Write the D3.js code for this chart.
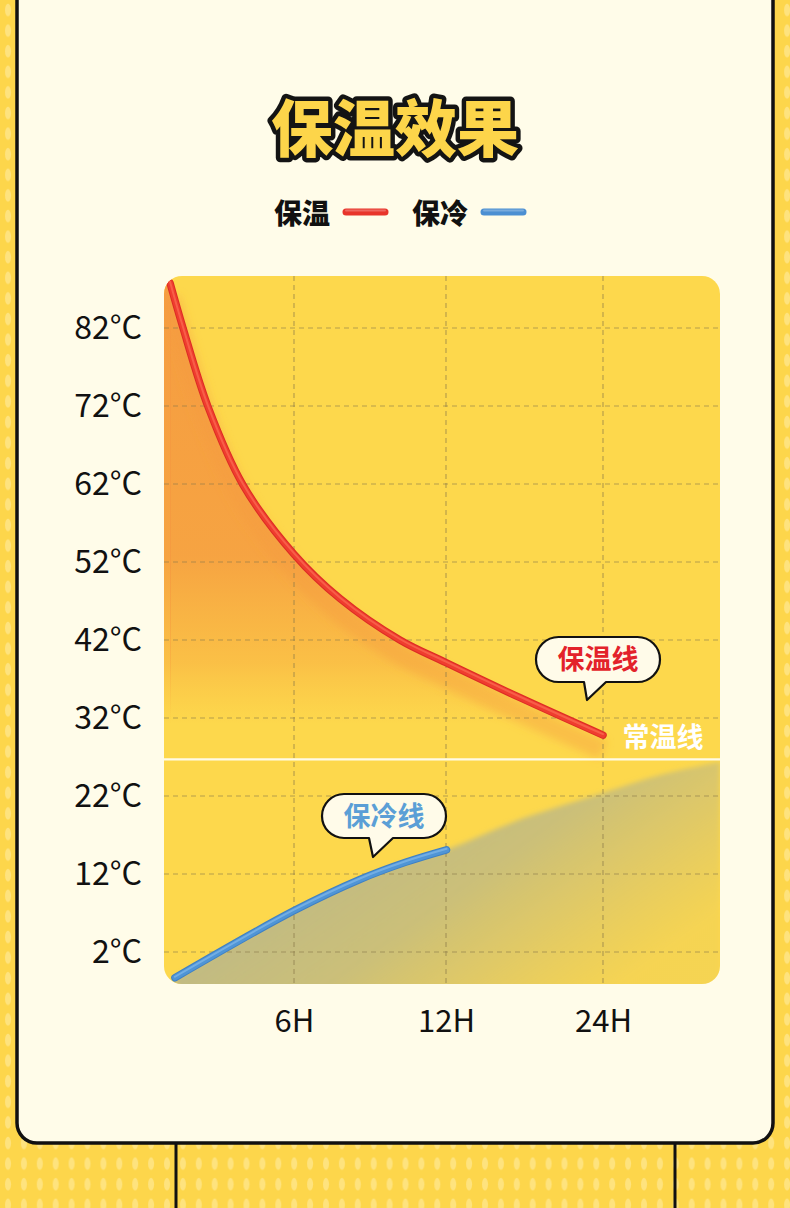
<!DOCTYPE html>
<html>
<head>
<meta charset="utf-8">
<script src="https://cdn.jsdelivr.net/npm/d3@7/dist/d3.min.js"></script>
<style>
  html, body { margin: 0; padding: 0; background: #fcd64a; }
  svg { display: block; }
</style>
</head>
<body>
<svg id="chart" width="790" height="1208"></svg>
<script>
// ---------------- DATA ----------------
const title = "保温效果";
const legendLabels = ["保温", "保冷"];
const yTicks = [82, 72, 62, 52, 42, 32, 22, 12, 2];
const xTicks = [6, 12, 24];
const xTickLabels = ["6H", "12H", "24H"];
// 保温 (hot-keeping) curve: hours, °C
const redHours = [0, 0.63, 1.84, 3.53, 6, 7.82, 10.18, 12, 17.66, 24];
const redTemps = [87.8, 82.0, 71.9, 61.9, 53.0, 47.3, 42.0, 39.1, 34.6, 29.8];
// 保冷 (cold-keeping) curve
const blueHours = [0.24, 6, 8.6, 10.4, 12.04];
const blueTemps = [-1.3, 7.3, 11.3, 13.5, 15.1];
// continuation of the cold zone toward room temperature
const ambientHours = [12.04, 18, 24, 28.4, 33];
const ambientTemps = [15.1, 19.2, 22.4, 24.7, 26.4];
const roomTemp = 26.7;
const bubbleLabels = ["保温线", "保冷线"];
const roomLabel = "常温线";

// ---------------- LAYOUT ----------------
const W = 790, H = 1208;
const plot = { left: 164, right: 720, top: 276, bottom: 984, r: 18 };
const FONT = "'Noto Sans CJK SC', 'Noto Sans', sans-serif";

const svg = d3.select("#chart");
const defs = svg.append("defs");

// background dotted pattern
const pat = defs.append("pattern").attr("id", "dots")
  .attr("patternUnits", "userSpaceOnUse").attr("width", 15.9).attr("height", 20.6);
pat.append("rect").attr("width", 15.9).attr("height", 20.6).attr("fill", "#fdd64b");
pat.append("ellipse").attr("cx", 8).attr("cy", 10).attr("rx", 3).attr("ry", 6.3)
  .attr("fill", "#fee68f").attr("opacity", 0.75);

svg.append("rect").attr("width", W).attr("height", H).attr("fill", "url(#dots)");

// card
svg.append("line").attr("x1", 176).attr("x2", 176).attr("y1", 1140).attr("y2", H)
  .attr("stroke", "#111").attr("stroke-width", 3);
svg.append("line").attr("x1", 675).attr("x2", 675).attr("y1", 1140).attr("y2", H)
  .attr("stroke", "#111").attr("stroke-width", 3);
svg.append("rect").attr("x", 17).attr("y", -40).attr("width", 756).attr("height", 1183)
  .attr("rx", 20).attr("fill", "#fffce9").attr("stroke", "#111").attr("stroke-width", 3.5);

// title
svg.append("text").attr("x", 395).attr("y", 152).attr("text-anchor", "middle")
  .attr("font-family", FONT).attr("font-weight", 900).attr("font-size", 62)
  .attr("fill", "#fdd54a").attr("stroke", "#141414").attr("stroke-width", 9)
  .attr("stroke-linejoin", "round").attr("paint-order", "stroke")
  .text(title);

// legend
const legendColors = ["#e8352b", "#4c8fd2"];
const legendX = [274, 412];
legendLabels.forEach((lab, i) => {
  svg.append("text").attr("x", legendX[i]).attr("y", 224)
    .attr("font-family", FONT).attr("font-weight", 900).attr("font-size", 28)
    .attr("fill", "#111").text(lab);
  svg.append("line").attr("x1", legendX[i] + 72).attr("x2", legendX[i] + 111)
    .attr("y1", 212).attr("y2", 212)
    .attr("stroke", legendColors[i]).attr("stroke-width", 7).attr("stroke-linecap", "round");
  svg.append("line").attr("x1", legendX[i] + 72).attr("x2", legendX[i] + 111)
    .attr("y1", 210.5).attr("y2", 210.5)
    .attr("stroke", "#fff").attr("stroke-opacity", 0.25).attr("stroke-width", 2).attr("stroke-linecap", "round");
});

// ---------------- SCALES ----------------
const x = d3.scaleLinear().domain([0, 6, 12, 24, 33]).range([170, 294, 446, 603, 720]);
const y = d3.scaleLinear().domain([2, 82]).range([952, 328]);

// clip
defs.append("clipPath").attr("id", "plotClip").append("rect")
  .attr("x", plot.left).attr("y", plot.top)
  .attr("width", plot.right - plot.left).attr("height", plot.bottom - plot.top).attr("rx", plot.r);

// plot background
svg.append("rect").attr("x", plot.left).attr("y", plot.top)
  .attr("width", plot.right - plot.left).attr("height", plot.bottom - plot.top)
  .attr("rx", plot.r).attr("fill", "#fdd84c");

const g = svg.append("g").attr("clip-path", "url(#plotClip)");

const red = redHours.map((h, i) => ({ h, t: redTemps[i] }));
const blue = blueHours.map((h, i) => ({ h, t: blueTemps[i] }));
const ambient = ambientHours.map((h, i) => ({ h, t: ambientTemps[i] }));
const cold = blue.concat(ambient.slice(1));

const CURVE = d3.curveCatmullRom.alpha(0.5);

// gradients
const og = defs.append("linearGradient").attr("id", "orangeGrad")
  .attr("gradientUnits", "userSpaceOnUse")
  .attr("x1", 0).attr("y1", y(redTemps[0])).attr("x2", 0).attr("y2", y(roomTemp) - 35);
og.append("stop").attr("offset", 0).attr("stop-color", "#f59a40").attr("stop-opacity", 0.95);
og.append("stop").attr("offset", 0.62).attr("stop-color", "#f59a40").attr("stop-opacity", 0.85);
og.append("stop").attr("offset", 0.86).attr("stop-color", "#f7a23f").attr("stop-opacity", 0.45);
og.append("stop").attr("offset", 1).attr("stop-color", "#f8b042").attr("stop-opacity", 0);

const gg = defs.append("linearGradient").attr("id", "greyGrad")
  .attr("gradientUnits", "userSpaceOnUse")
  .attr("x1", 380).attr("y1", 780).attr("x2", 560).attr("y2", 1030);
gg.append("stop").attr("offset", 0).attr("stop-color", "#b4b48e").attr("stop-opacity", 0.88);
gg.append("stop").attr("offset", 0.45).attr("stop-color", "#b8b68a").attr("stop-opacity", 0.72);
gg.append("stop").attr("offset", 1).attr("stop-color", "#c2b880").attr("stop-opacity", 0.12);

const blur = defs.append("filter").attr("id", "soft").attr("x", "-10%").attr("y", "-10%")
  .attr("width", "120%").attr("height", "120%");
blur.append("feGaussianBlur").attr("stdDeviation", 2.5);

const blur2 = defs.append("filter").attr("id", "soft2").attr("x", "-10%").attr("y", "-10%")
  .attr("width", "120%").attr("height", "120%");
blur2.append("feGaussianBlur").attr("stdDeviation", 4);

// orange zone
g.append("rect").attr("x", plot.left).attr("y", plot.top)
  .attr("width", x(0) - plot.left + 1).attr("height", y(roomTemp) - plot.top)
  .attr("fill", "url(#orangeGrad)");
g.append("path").datum(red)
  .attr("d", d3.area().x(d => x(d.h)).y1(d => y(d.t)).y0(y(roomTemp)).curve(CURVE))
  .attr("fill", "url(#orangeGrad)");
// glow just beneath the hot curve
g.append("path").datum(red)
  .attr("d", d3.line().x(d => x(d.h)).y(d => y(d.t) + 15).curve(CURVE))
  .attr("fill", "none").attr("stroke", "#f59a40").attr("stroke-opacity", 0.4)
  .attr("stroke-width", 20).attr("filter", "url(#soft2)");

// cold zone
g.append("path").datum(cold)
  .attr("d", d3.area().x(d => x(d.h)).y1(d => y(d.t)).y0(plot.bottom + 20).curve(CURVE))
  .attr("fill", "url(#greyGrad)").attr("filter", "url(#soft)");

// grid
const grid = g.append("g").attr("stroke", "#8a7a4a").attr("stroke-opacity", 0.6)
  .attr("stroke-width", 1.2).attr("stroke-dasharray", "5,4");
grid.selectAll(".hg").data(yTicks).join("line")
  .attr("x1", plot.left).attr("x2", plot.right)
  .attr("y1", d => y(d)).attr("y2", d => y(d));
grid.selectAll(".vg").data(xTicks).join("line")
  .attr("y1", plot.top).attr("y2", plot.bottom)
  .attr("x1", d => x(d)).attr("x2", d => x(d));

// room temperature line
g.append("line").attr("x1", plot.left).attr("x2", plot.right)
  .attr("y1", y(roomTemp)).attr("y2", y(roomTemp))
  .attr("stroke", "#fffbe6").attr("stroke-width", 2.2);

// curves
const line = d3.line().x(d => x(d.h)).y(d => y(d.t)).curve(CURVE);
function tube(data, main, dark, light) {
  g.append("path").datum(data).attr("d", line).attr("fill", "none")
    .attr("stroke", dark).attr("stroke-width", 7.5).attr("stroke-linecap", "round");
  g.append("path").datum(data).attr("d", line).attr("fill", "none")
    .attr("stroke", main).attr("stroke-width", 5.5).attr("stroke-linecap", "round");
  g.append("path").datum(data).attr("d", line).attr("fill", "none")
    .attr("stroke", light).attr("stroke-width", 2).attr("stroke-linecap", "round")
    .attr("stroke-opacity", 0.55).attr("transform", "translate(0,-1)");
}
tube(red, "#ef3d2f", "#dc2c25", "#ff7a5c");
tube(blue, "#4f95d6", "#3f80c4", "#8fc3f0");

// axis labels
const yAxis = d3.axisLeft(y).tickValues(yTicks).tickFormat(d => d + "°C").tickSize(0).tickPadding(0);
const ya = svg.append("g").attr("transform", "translate(142,0)").call(yAxis);
ya.select(".domain").remove();
ya.selectAll("text").attr("font-family", FONT).attr("font-size", 32).attr("font-weight", 400)
  .attr("fill", "#111").attr("dy", "0.33em").attr("x", 0);

const xAxis = d3.axisBottom(x).tickValues(xTicks).tickFormat((d, i) => xTickLabels[i]).tickSize(0).tickPadding(0);
const xa = svg.append("g").attr("transform", "translate(0,1006)").call(xAxis);
xa.select(".domain").remove();
xa.selectAll("text").attr("font-family", FONT).attr("font-size", 31).attr("font-weight", 400)
  .attr("fill", "#111").attr("dy", "0.84em");

// bubbles
function bubble(left, top, w, h, tailL, tailR, tipX, tipY, text, color) {
  const r = h / 2, b = top + h, rr = left + w;
  const p = d3.path();
  p.moveTo(left + r, top);
  p.lineTo(rr - r, top);
  p.arc(rr - r, top + r, r, -Math.PI / 2, Math.PI / 2);
  p.lineTo(tailR, b);
  p.lineTo(tipX, tipY);
  p.lineTo(tailL, b);
  p.lineTo(left + r, b);
  p.arc(left + r, top + r, r, Math.PI / 2, Math.PI * 1.5);
  p.closePath();
  svg.append("path").attr("d", p.toString()).attr("fill", "#fffbe9")
    .attr("stroke", "#111").attr("stroke-width", 2.2).attr("stroke-linejoin", "round");
  svg.append("text").attr("x", left + w / 2).attr("y", top + h / 2).attr("dy", "0.36em")
    .attr("text-anchor", "middle").attr("font-family", FONT).attr("font-weight", 700)
    .attr("font-size", 27).attr("fill", color).text(text);
}
bubble(536, 637, 124, 45, 584, 606, 587, 700, bubbleLabels[0], "#e3222a");
bubble(322, 794, 124, 44, 369, 393, 373, 857, bubbleLabels[1], "#5b9fd6");

// room temp label
svg.append("text").attr("x", 663).attr("y", 737).attr("dy", "0.36em")
  .attr("text-anchor", "middle").attr("font-family", FONT).attr("font-weight", 700)
  .attr("font-size", 27).attr("fill", "#ffffff").text(roomLabel);
</script>
</body>
</html>
